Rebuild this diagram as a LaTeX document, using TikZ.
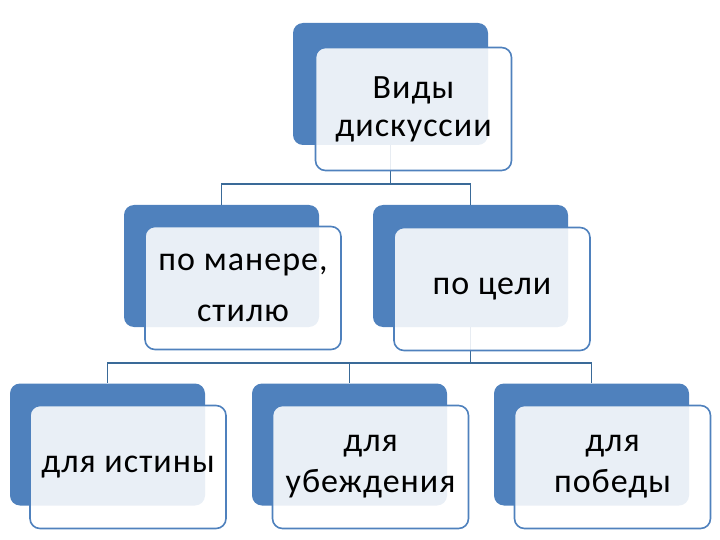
\documentclass[tikz,border=0pt]{standalone}
\usepackage{fontspec}
\setmainfont[LetterSpace=3]{Carlito}
\definecolor{accent}{HTML}{4F81BD}
\definecolor{linkblue}{HTML}{3A6A98}
\tikzset{
  back/.style={fill=accent, rounded corners=10pt, minimum width=195pt,
    minimum height=122pt, inner sep=0pt},
  front/.style={draw=accent, line width=1.6pt, fill=white, fill opacity=0.88,
    text opacity=1, rounded corners=10pt, minimum width=196pt,
    minimum height=123pt, inner sep=0pt, align=center,
    font=\fontsize{34}{38}\selectfont},
  link/.style={draw=linkblue, line width=1.6pt},
}

\begin{document}
\begin{tikzpicture}[x=1pt, y=-1pt]
    \useasboundingbox (0,0) rectangle (720,540);
    % blue backs
    \node[back] (bTop) at (390.5, 84) {};
    \node[back] (bMan) at (221.5, 266) {};
    \node[back] (bGoal) at (470.5, 266) {};
    \node[back] (bTruth) at (107.5, 444.5) {};
    \node[back] (bConv) at (349.5, 444.5) {};
    \node[back] (bWin) at (591.5, 444.5) {};
    % connectors
    \draw[link] (bTop.south) -- ++(0,39) -| (bMan.north);
    \draw[link] (bTop.south) -- ++(0,39) -| (bGoal.north);
    \draw[link] (bGoal.south) -- ++(0,36) -| (bTruth.north);
    \draw[link] (bGoal.south) -- ++(0,36) -| (bConv.north);
    \draw[link] (bGoal.south) -- ++(0,36) -| (bWin.north);
    % text boxes
    \node[front] (top) at (413.5, 109) {Виды\\дискуссии};
    \node[front] (man) at (243, 288) {по манере,\\[13pt]стилю};
    \node[front] (goal) at (492, 289) {по цели};
    \node[front] (truth) at (128, 467) {для истины};
    \node[front] (conv) at (370.5, 467) {для\\[3pt]убеждения};
    \node[front] (win) at (612.5, 467) {для\\[3pt]победы};
\end{tikzpicture}
\end{document}
